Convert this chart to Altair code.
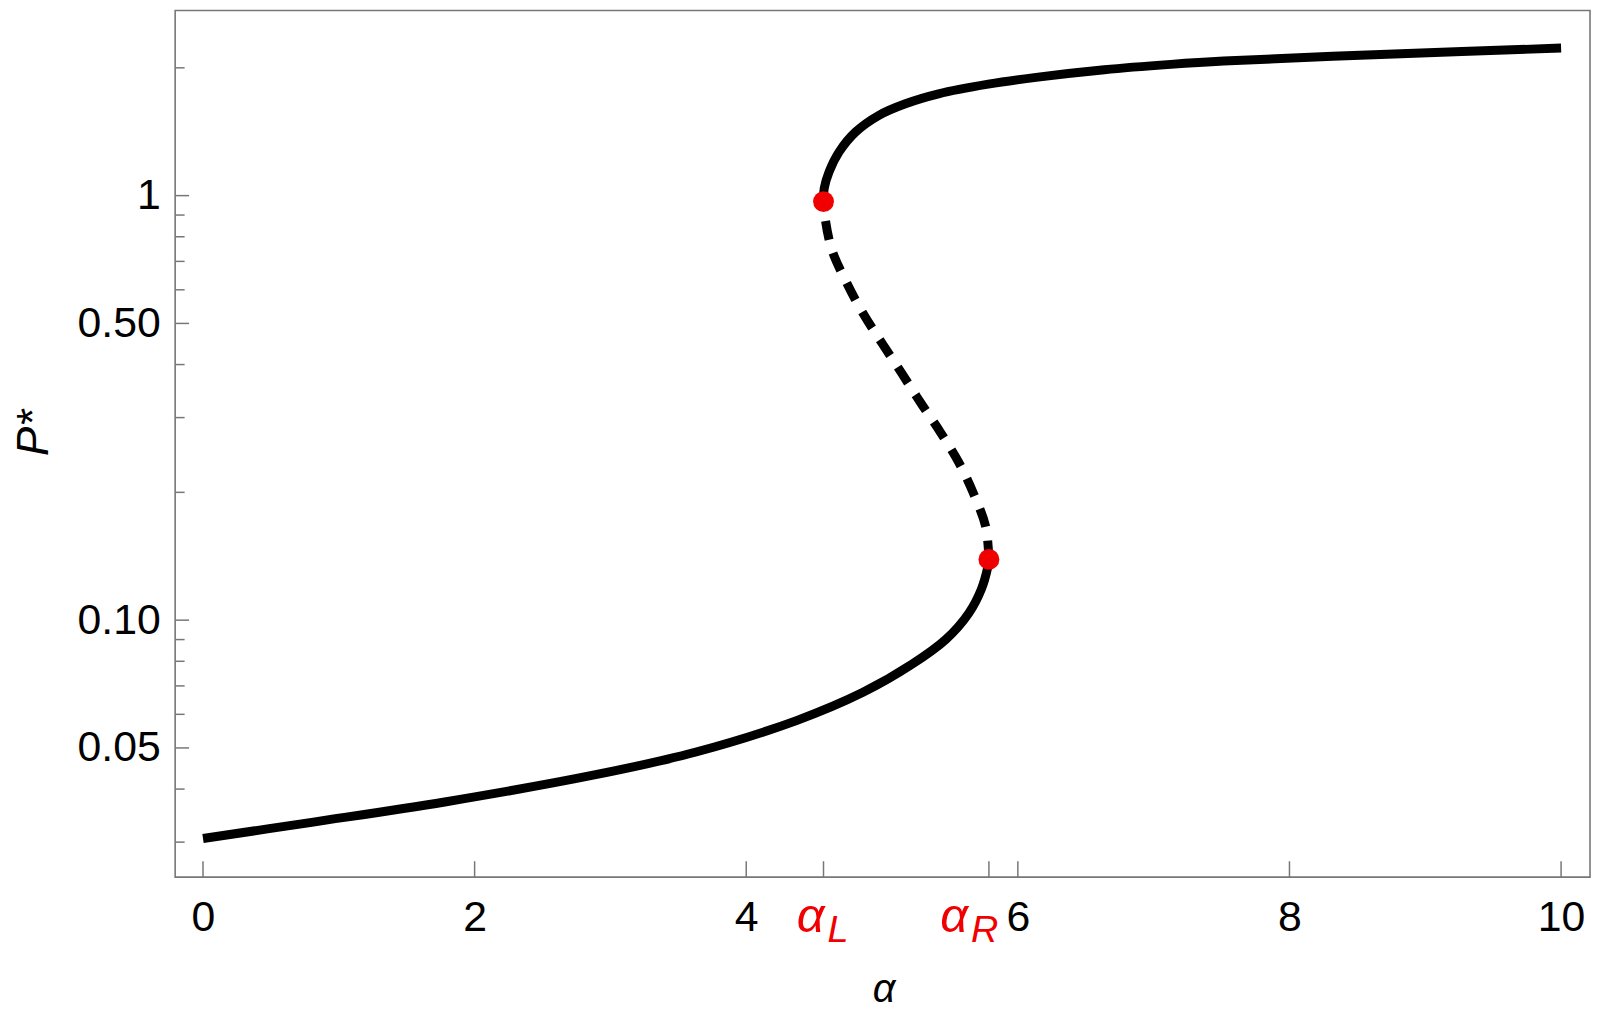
import altair as alt
import pandas as pd

# ---------------- data ----------------
lower_alpha = [0.0, 0.80, 1.78, 2.90, 3.63, 4.37, 4.86, 5.22, 5.47, 5.64, 5.73, 5.78, 5.787]
lower_p = [0.0306, 0.0334, 0.0373, 0.0433, 0.0489, 0.0580, 0.0676, 0.0787, 0.0901, 0.104, 0.118, 0.134, 0.139]

mid_alpha = [5.787, 5.763, 5.673, 5.563, 5.429, 5.282, 5.141, 5.002, 4.862, 4.740, 4.630, 4.579, 4.569]
mid_p = [0.139, 0.1661, 0.1989, 0.2359, 0.2773, 0.326, 0.3834, 0.448, 0.527, 0.623, 0.746, 0.893, 0.968]

upper_alpha = [4.569, 4.574, 4.610, 4.684, 4.806, 4.977, 5.172, 5.416, 5.782, 6.149, 6.637, 7.126, 7.516, 8.77, 10.0]
upper_p = [0.968, 1.040, 1.138, 1.268, 1.413, 1.546, 1.646, 1.737, 1.830, 1.902, 1.980, 2.038, 2.075, 2.156, 2.226]

fold_alpha = [4.569, 5.787]
fold_p = [0.968, 0.139]
fold_names = ["L", "R"]

x_label_values = [0, 2, 4, 6, 8, 10]
x_tick_values = [0, 2, 4, 6, 8, 10, 4.569, 5.787]
y_label_values = [0.05, 0.1, 0.5, 1]
y_minor_values = [0.03, 0.04, 0.06, 0.07, 0.08, 0.09, 0.2, 0.3, 0.4, 0.6, 0.7, 0.8, 0.9, 2]

# ---------------- layout / style ----------------
W, H = 1422, 871
XDOM = [-0.205, 10.213]
YDOM = [0.02481, 2.729]
RED = "#f00000"
GRAY = "#777777"
FONT = "Liberation Sans"

xs = alt.Scale(domain=XDOM, nice=False, zero=False)
ys = alt.Scale(type="log", domain=YDOM, nice=False)

lower_df = pd.DataFrame({"a": lower_alpha, "p": lower_p, "o": range(len(lower_alpha))})
mid_df = pd.DataFrame({"a": mid_alpha, "p": mid_p, "o": range(len(mid_alpha))})
upper_df = pd.DataFrame({"a": upper_alpha, "p": upper_p, "o": range(len(upper_alpha))})
fold_df = pd.DataFrame({"a": fold_alpha, "p": fold_p, "name": fold_names})

x_axis = alt.Axis(
    values=x_label_values, format="d", grid=False, domain=False, ticks=False, tickSize=0,
    labelFont=FONT, labelFontSize=43, labelColor="black", labelPadding=20,
    title="α", titleFont=FONT, titleFontSize=40, titleFontStyle="italic", titleFontWeight="normal",
    titleColor="black", titleX=712, titleY=125, titleAlign="center", titleBaseline="alphabetic",
)
y_axis = alt.Axis(
    values=y_label_values, labelExpr="datum.value >= 1 ? '1' : format(datum.value, '.2f')",
    grid=False, domain=False, ticks=False, tickSize=0,
    labelFont=FONT, labelFontSize=43, labelColor="black", labelPadding=15,
    labelAlign="right", labelBaseline="middle",
    title="P*", titleFont=FONT, titleFontSize=44, titleFontStyle="italic", titleFontWeight="normal",
    titleColor="black", titleAngle=270, titleX=-128, titleY=424, titleAlign="center",
    titleBaseline="alphabetic",
)

X = alt.X("a:Q", scale=xs, axis=x_axis)
Y = alt.Y("p:Q", scale=ys, axis=y_axis)

lower = alt.Chart(lower_df).mark_line(
    color="black", strokeWidth=9, interpolate="catmull-rom", strokeCap="butt"
).encode(x=X, y=Y, order="o:Q")

mid = alt.Chart(mid_df).mark_line(
    color="black", strokeWidth=9, interpolate="catmull-rom", strokeCap="butt", strokeDash=[19, 14]
).encode(x=X, y=Y, order="o:Q")

upper = alt.Chart(upper_df).mark_line(
    color="black", strokeWidth=9, interpolate="catmull-rom", strokeCap="butt"
).encode(x=X, y=Y, order="o:Q")

dots = alt.Chart(fold_df).mark_circle(size=440, color=RED, opacity=1).encode(x=X, y=Y)

# inward ticks
xt = alt.Chart(pd.DataFrame({"a": x_tick_values})).mark_rule(color=GRAY, strokeWidth=1.5).encode(
    x=X, y=alt.value(H), y2=alt.value(H - 16)
)
yt_major = alt.Chart(pd.DataFrame({"p": y_label_values})).mark_rule(color=GRAY, strokeWidth=1.5).encode(
    y=Y, x=alt.value(0), x2=alt.value(14)
)
yt_minor = alt.Chart(pd.DataFrame({"p": y_minor_values})).mark_rule(color=GRAY, strokeWidth=1.5).encode(
    y=Y, x=alt.value(0), x2=alt.value(9.5)
)

# red fold labels alpha_L, alpha_R
label_dx = [1, -21]
label_layers = []
for i, name in enumerate(fold_names):
    d = fold_df.iloc[[i]]
    label_layers.append(
        alt.Chart(d).mark_text(
            text="α", font=FONT, fontSize=49, fontStyle="italic", color=RED,
            align="right", baseline="alphabetic", dx=label_dx[i],
        ).encode(x=X, y=alt.value(926))
    )
    label_layers.append(
        alt.Chart(d).mark_text(
            font=FONT, fontSize=38, fontStyle="italic", color=RED,
            align="left", baseline="alphabetic", dx=label_dx[i] + 3,
        ).encode(x=X, y=alt.value(936), text="name:N")
    )

chart = alt.layer(lower, mid, upper, dots, xt, yt_major, yt_minor, *label_layers).properties(
    width=W, height=H,
    autosize=alt.AutoSizeParams(type="none"),
    padding={"left": 168, "top": 0, "right": 2, "bottom": 134},
    background="white",
).configure_view(stroke=GRAY, strokeWidth=1.6)

chart.save("out.html", embed_options={"renderer": "svg", "actions": False})
